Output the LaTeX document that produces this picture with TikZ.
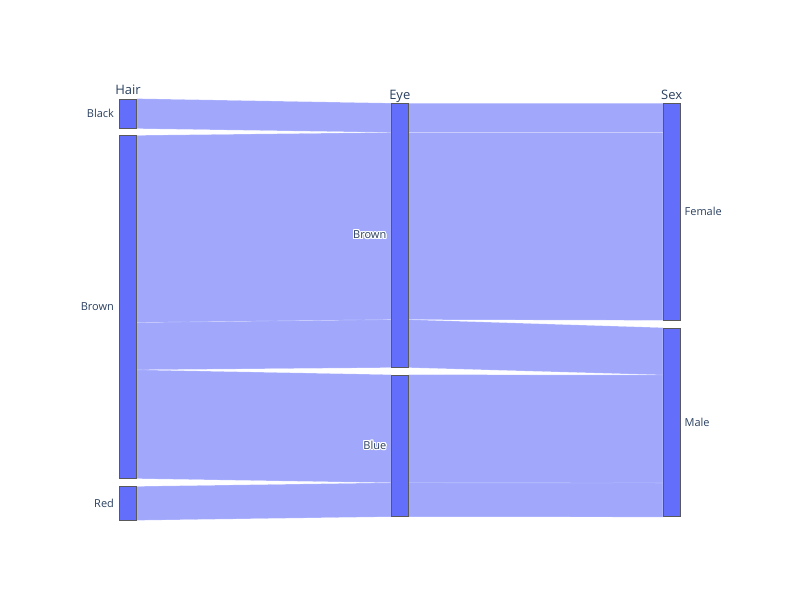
\documentclass[tikz,border=0pt]{standalone}
\usepackage{fontspec}
\setmainfont{Open Sans}
\usepackage[copies]{contour}
\usetikzlibrary{positioning}
\usetikzlibrary{calc}
\usetikzlibrary{backgrounds}
\definecolor{barblue}{HTML}{636EFA}
\definecolor{labelcol}{HTML}{2A3F5F}
\contourlength{1.1pt}

\begin{document}
\begin{tikzpicture}[x=1pt,y=-1pt]

\tikzstyle{bar}=[rectangle, minimum width=17pt, inner sep=0pt, draw=black!65, line width=0.7pt, fill=barblue]
\tikzstyle{band}=[fill=barblue, fill opacity=0.6, draw=white, draw opacity=0.35, line width=0.4pt]
\tikzstyle{dimtitle}=[font=\fontsize{13}{15}\selectfont, text=labelcol, inner sep=0pt]
\tikzstyle{catlabel}=[font=\fontsize{11}{13}\selectfont, text=labelcol, inner sep=0pt]

\useasboundingbox (0,0) rectangle (800,600);

% bars
\node[bar, minimum height=29.3pt] (hBlack) at (128,113.65) {};
\node[bar, minimum height=342.6pt] (hBrown) at (128,307) {};
\node[bar, minimum height=33.3pt] (hRed) at (128,503.35) {};
\node[bar, minimum height=263.8pt] (eBrown) at (399.8,235.4) {};
\node[bar, minimum height=141.4pt] (eBlue) at (399.8,445.7) {};
\node[bar, minimum height=216.5pt] (sFemale) at (671.6,211.75) {};
\node[bar, minimum height=188.7pt] (sMale) at (671.6,422.35) {};

% titles
\node[dimtitle, above=4pt of hBlack, anchor=base] (tHair) {Hair};
\node[dimtitle, above=4pt of eBrown, anchor=base] (tEye) {Eye};
\node[dimtitle, above=4pt of sFemale, anchor=base] (tSex) {Sex};

% category labels
\node[catlabel, left=5pt of hBlack] (lhBlack) {Black};
\node[catlabel, left=5pt of hBrown] (lhBrown) {Brown};
\node[catlabel, left=5pt of hRed] (lhRed) {Red};
\node[catlabel, left=4.5pt of eBrown] (leBrown) {\contour{white}{Brown}};
\node[catlabel, left=4.5pt of eBlue] (leBlue) {\contour{white}{Blue}};
\node[catlabel, right=4pt of sFemale] (lsFemale) {Female};
\node[catlabel, right=4pt of sMale] (lsMale) {Male};

\begin{scope}[on background layer]
% Hair -> Eye
\fill[band] (hBlack.north east) -- (eBrown.north west) -- ($(eBrown.north west)+(0,29.3)$) -- (hBlack.south east) -- cycle;
\fill[band] (hBrown.north east) -- ($(eBrown.north west)+(0,29.3)$) -- ($(eBrown.north west)+(0,216.5)$) -- ($(hBrown.north east)+(0,187.2)$) -- cycle;
\fill[band] ($(hBrown.north east)+(0,187.2)$) -- ($(eBrown.north west)+(0,216.5)$) -- (eBrown.south west) -- ($(hBrown.north east)+(0,234.5)$) -- cycle;
\fill[band] ($(hBrown.north east)+(0,234.5)$) -- (eBlue.north west) -- ($(eBlue.north west)+(0,108.1)$) -- (hBrown.south east) -- cycle;
\fill[band] (hRed.north east) -- ($(eBlue.north west)+(0,108.1)$) -- (eBlue.south west) -- (hRed.south east) -- cycle;
% Eye -> Sex
\fill[band] (eBrown.north east) -- (sFemale.north west) -- ($(sFemale.north west)+(0,29.3)$) -- ($(eBrown.north east)+(0,29.3)$) -- cycle;
\fill[band] ($(eBrown.north east)+(0,29.3)$) -- ($(sFemale.north west)+(0,29.3)$) -- (sFemale.south west) -- ($(eBrown.north east)+(0,216.5)$) -- cycle;
\fill[band] ($(eBrown.north east)+(0,216.5)$) -- (sMale.north west) -- ($(sMale.north west)+(0,47.3)$) -- (eBrown.south east) -- cycle;
\fill[band] (eBlue.north east) -- ($(sMale.north west)+(0,47.3)$) -- ($(sMale.north west)+(0,155.4)$) -- ($(eBlue.north east)+(0,108.1)$) -- cycle;
\fill[band] ($(eBlue.north east)+(0,108.1)$) -- ($(sMale.north west)+(0,155.4)$) -- (sMale.south west) -- (eBlue.south east) -- cycle;
\end{scope}

\end{tikzpicture}
\end{document}
